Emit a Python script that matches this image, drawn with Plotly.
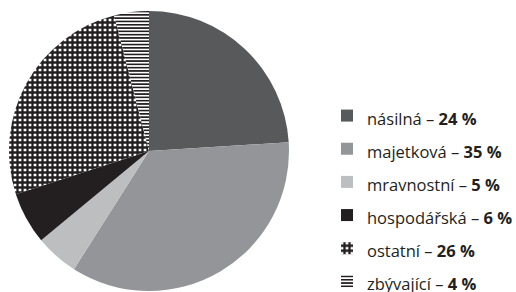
import plotly.graph_objects as go

categories = ["násilná", "majetková", "mravnostní", "hospodářská", "ostatní", "zbývající"]
values = [24, 35, 5, 6, 26, 4]
colors = ["#58595b", "#939598", "#bcbec0", "#231f20", "#ffffff", "#ffffff"]
shapes = ["", "", "", "", "+", "-"]

labels = [f"<span style='font-size:16.5px'>{c} – <b>{v} %</b></span>" for c, v in zip(categories, values)]

fig = go.Figure(go.Pie(
    labels=labels,
    values=values,
    sort=False,
    direction="clockwise",
    rotation=0,
    textinfo="none",
    hoverinfo="label",
    marker=dict(
        colors=colors,
        line=dict(width=0),
        pattern=dict(
            shape=shapes,
            fgcolor="#231f20",
            bgcolor="#ffffff",
            size=[8, 8, 8, 8, 5, 3.3],
            solidity=[0.3, 0.3, 0.3, 0.3, 0.7, 0.5],
            fillmode="replace",
        ),
    ),
    domain=dict(x=[9 / 516, 289 / 516], y=[0, 282 / 292]),
))

fig.update_layout(
    width=516,
    height=292,
    margin=dict(l=0, r=0, t=0, b=0, autoexpand=False),
    paper_bgcolor="white",
    plot_bgcolor="white",
    font=dict(family="Open Sans", color="#231f20"),
    showlegend=True,
    legend=dict(
        x=327 / 516,
        xanchor="left",
        y=1 - 94 / 292,
        yanchor="top",
        font=dict(size=23.2, family="Open Sans", color="#231f20"),
        bgcolor="rgba(0,0,0,0)",
        itemclick=False,
    ),
)

fig.write_html(
    "out.html",
    config={"displayModeBar": False},
    post_script="document.body.style.margin='0';document.body.style.overflow='hidden';",
)
